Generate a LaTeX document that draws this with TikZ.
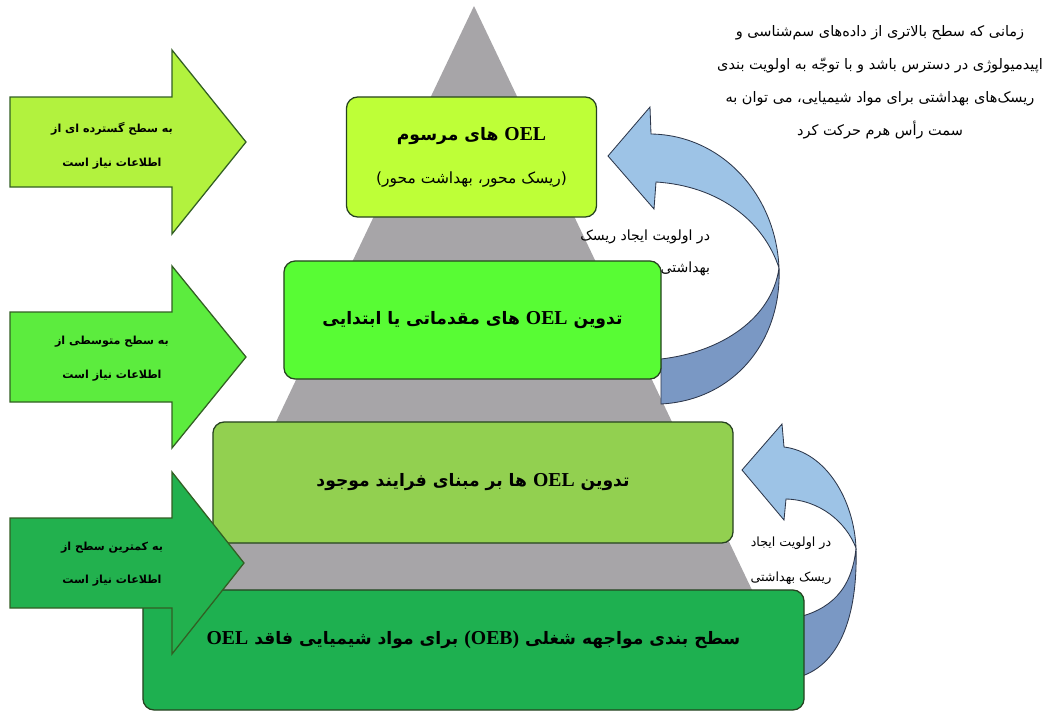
\documentclass[tikz,border=0pt]{standalone}
\usepackage{fontspec}
\usepackage{tikz}
\newfontfamily\fafont[Script=Arabic]{DejaVu Sans}
\newfontfamily\oelfont[Scale=1.15]{Liberation Serif}
\TeXXeTstate=1
\newcommand\rl[1]{\beginR#1\endR}
\newcommand\oel[1]{{\oelfont\bfseries #1}}

\definecolor{pyrgray}{RGB}{167,165,168}
\definecolor{lvlone}{RGB}{190,255,55}
\definecolor{lvltwo}{RGB}{88,252,52}
\definecolor{lvlthree}{RGB}{146,208,80}
\definecolor{lvlfour}{RGB}{30,176,80}
\definecolor{arrone}{RGB}{178,242,62}
\definecolor{arrtwo}{RGB}{92,236,62}
\definecolor{arrthree}{RGB}{34,177,78}
\definecolor{boxedge}{RGB}{38,66,32}
\definecolor{arrowedge}{RGB}{50,95,35}
\definecolor{ribfront}{RGB}{157,195,230}
\definecolor{ribback}{RGB}{122,152,196}
\definecolor{ribedge}{RGB}{45,55,75}

\begin{document}
\begin{tikzpicture}[x=0.025cm, y=-0.025cm,
  boxtext/.style={align=center, font=\fafont\bfseries\fontsize{12.2}{30.5}\selectfont},
  level/.style={boxtext, rounded corners=8pt, draw=boxedge, line width=0.9pt},
  infoarrow/.style={draw=arrowedge, line width=0.9pt},
  infotext/.style={align=center, font=\fafont\bfseries\fontsize{7.9}{24}\selectfont},
  ribbon/.style={draw=ribedge, line width=0.6pt},
  note/.style={font=\fafont\fontsize{10.3}{23.5}\selectfont}
]
\useasboundingbox (0,0) rectangle (1060,712);

% pyramid
\fill[pyrgray] (474,6) -- (802,695) -- (146,695) -- cycle;

% curved arrows on the right
\draw[ribbon, fill=ribback] (779,268) .. controls (782,340) and (735,400) .. (661,404)
  -- (661,359) .. controls (722,352) and (772,318) .. (779,268) -- cycle;
\draw[ribbon, fill=ribfront] (608,156) -- (650,107) -- (651,134)
  .. controls (722,135) and (776,195) .. (779,268)
  .. controls (764,222) and (720,186) .. (656,182) -- (654,209) -- cycle;

\draw[ribbon, fill=ribback] (856,548) .. controls (858,615) and (840,668) .. (795,678)
  -- (795,618) .. controls (830,610) and (852,590) .. (856,548) -- cycle;
\draw[ribbon, fill=ribfront] (742,470) -- (782,424) -- (784,447)
  .. controls (826,452) and (854,500) .. (856,548)
  .. controls (846,522) and (820,500) .. (786,499) -- (784,520) -- cycle;

% levels of the pyramid
\node[level, fill=lvlone, minimum width=6.25cm, minimum height=3cm] (conv) at (471.5,157)
  {\rl{\oel{OEL} های مرسوم}\\{\mdseries\fontsize{11}{30.5}\selectfont\rl{(ریسک محور، بهداشت محور)}}};
\node[level, fill=lvltwo, minimum width=9.425cm, minimum height=2.95cm] (prelim) at (472.5,320)
  {\rl{تدوین \oel{OEL} های مقدماتی یا ابتدایی}};
\node[level, fill=lvlthree, minimum width=13cm, minimum height=3.025cm] (process) at (473,482.5)
  {\rl{تدوین \oel{OEL} ها بر مبنای فرایند موجود}};
\node[level, fill=lvlfour, minimum width=16.525cm, minimum height=3cm] (banding) at (473.5,650) {};
\node[boxtext] (bandingtext) at (473.5,640)
  {\rl{سطح بندی مواجهه شغلی \beginL\oel{(OEB)}\endL{} برای مواد شیمیایی فاقد \oel{OEL}}};

% information arrows on the left
\draw[infoarrow, fill=arrone] (10,97) -- (172,97) -- (172,50) -- (246,142) -- (172,234) -- (172,187) -- (10,187) -- cycle;
\node[infotext] (wide) at (112,146) {\rl{به سطح گسترده ای از}\\\rl{اطلاعات نیاز است}};

\draw[infoarrow, fill=arrtwo] (10,312) -- (172,312) -- (172,266) -- (246,357) -- (172,448) -- (172,402) -- (10,402) -- cycle;
\node[infotext] (medium) at (112,359) {\rl{به سطح متوسطی از}\\\rl{اطلاعات نیاز است}};

\draw[infoarrow, fill=arrthree] (10,518) -- (172,518) -- (172,472) -- (244,563) -- (172,654) -- (172,608) -- (10,608) -- cycle;
\node[infotext] (least) at (112,564) {\rl{به کمترین سطح از}\\\rl{اطلاعات نیاز است}};

% notes
\node[note, font=\fafont\fontsize{10}{23}\selectfont, align=right, anchor=east] (prio1) at (715,253)
  {\rl{در اولویت ایجاد ریسک}\\\rl{بهداشتی}};
\node[note, font=\fafont\fontsize{9}{25}\selectfont, align=center] (prio2) at (791,561)
  {\rl{در اولویت ایجاد}\\\rl{ریسک بهداشتی}};
\node[note, align=center] (climb) at (880,82)
  {\rl{زمانی که سطح بالاتری از داده‌های سم‌شناسی و}\\\rl{اپیدمیولوژی در دسترس باشد و با توجّه به اولویت بندی}\\\rl{ریسک‌های بهداشتی برای مواد شیمیایی، می توان به}\\\rl{سمت رأس هرم حرکت کرد}};
\end{tikzpicture}
\end{document}
